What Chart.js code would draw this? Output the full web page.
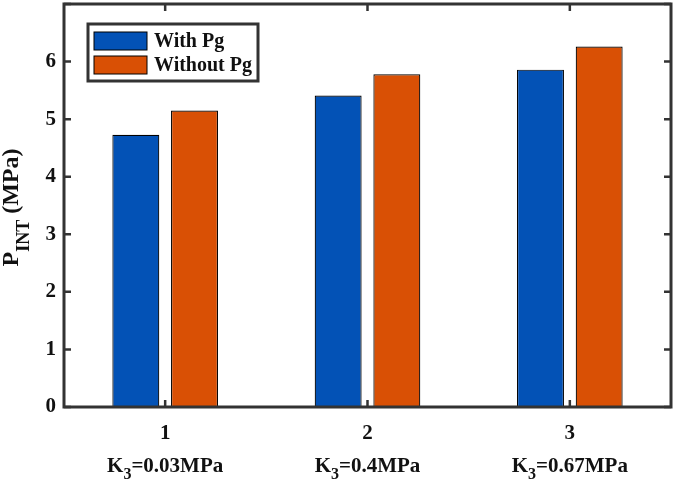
<!DOCTYPE html>
<html lang="en">
<head>
  <meta charset="UTF-8">
  <title>P_INT bar chart</title>
  <script src="https://cdn.jsdelivr.net/npm/chart.js"></script>
  <style>
    html, body {
      margin: 0;
      padding: 0;
      background: #fff;
    }

    .chart-container {
      width: 677px;
      height: 485px;
      position: relative;
    }
  </style>
</head>
<body>

  <div class="chart-container">
    <canvas id="barChart"></canvas>
  </div>

  <script>
    // chart values
    const categories = ['1', '2', '3'];
    const kValues = ['0.03MPa', '0.4MPa', '0.67MPa'];
    const seriesNames = ['With Pg', 'Without Pg'];
    const withPg = [4.73, 5.41, 5.86];
    const withoutPg = [5.15, 5.78, 6.26];
    const yTicks = [0, 1, 2, 3, 4, 5, 6, 7];

    const FONT = "'Liberation Serif', 'Times New Roman', serif";
    const FRAME = '#333333';

    // frame, inner ticks, subscript labels and boxed legend
    const matlabLook = {
      id: 'matlabLook',
      afterDraw(chart) {
        const ctx = chart.ctx;
        const a = chart.chartArea;
        const x = chart.scales.x;
        const y = chart.scales.y;

        ctx.save();
        ctx.strokeStyle = FRAME;
        ctx.lineWidth = 3;
        ctx.strokeRect(a.left, a.top, a.right - a.left, a.bottom - a.top);

        ctx.lineWidth = 2.5;
        yTicks.forEach(v => {
          const py = y.getPixelForValue(v);
          ctx.beginPath();
          ctx.moveTo(a.left, py); ctx.lineTo(a.left + 7, py);
          ctx.moveTo(a.right, py); ctx.lineTo(a.right - 7, py);
          ctx.stroke();
        });
        categories.forEach((c, i) => {
          const px = x.getPixelForValue(i);
          ctx.beginPath();
          ctx.moveTo(px, a.bottom); ctx.lineTo(px, a.bottom - 7);
          ctx.moveTo(px, a.top); ctx.lineTo(px, a.top + 7);
          ctx.stroke();
        });

        // K3 labels under the category numbers
        ctx.fillStyle = '#111';
        ctx.textBaseline = 'alphabetic';
        kValues.forEach((k, i) => {
          const px = x.getPixelForValue(i);
          const big = 'bold 21px ' + FONT;
          const small = 'bold 16px ' + FONT;
          ctx.font = big;
          const wK = ctx.measureText('K').width;
          const wRest = ctx.measureText('=' + k).width;
          ctx.font = small;
          const wSub = ctx.measureText('3').width;
          let sx = px - (wK + wSub + wRest) / 2;
          const base = 472;
          ctx.font = big;
          ctx.textAlign = 'left';
          ctx.fillText('K', sx, base);
          sx += wK;
          ctx.font = small;
          ctx.fillText('3', sx, base + 7);
          sx += wSub;
          ctx.font = big;
          ctx.fillText('=' + k, sx, base);
        });

        // y axis title with subscript
        ctx.save();
        ctx.translate(18, (a.top + a.bottom) / 2 + 2);
        ctx.rotate(-Math.PI / 2);
        const tBig = 'bold 24px ' + FONT;
        const tSmall = 'bold 18px ' + FONT;
        ctx.font = tBig;
        const wP = ctx.measureText('P').width;
        const wU = ctx.measureText(' (MPa)').width;
        ctx.font = tSmall;
        const wI = ctx.measureText('INT').width;
        let tx = -(wP + wI + wU) / 2;
        ctx.textAlign = 'left';
        ctx.font = tBig;
        ctx.fillText('P', tx, 0);
        tx += wP;
        ctx.font = tSmall;
        ctx.fillText('INT', tx, 11);
        tx += wI;
        ctx.font = tBig;
        ctx.fillText(' (MPa)', tx, 0);
        ctx.restore();

        // legend box
        const lx = a.left + 24, ly = a.top + 20, lw = 170, lh = 57;
        ctx.fillStyle = '#fff';
        ctx.fillRect(lx, ly, lw, lh);
        ctx.strokeStyle = FRAME;
        ctx.lineWidth = 3;
        ctx.strokeRect(lx, ly, lw, lh);
        chart.data.datasets.forEach((ds, i) => {
          const ry = ly + 8 + i * 24;
          ctx.fillStyle = ds.backgroundColor;
          ctx.fillRect(lx + 6, ry, 53, 18);
          ctx.strokeStyle = '#000';
          ctx.lineWidth = 1;
          ctx.strokeRect(lx + 6, ry, 53, 18);
          ctx.fillStyle = '#111';
          ctx.font = 'bold 20px ' + FONT;
          ctx.textAlign = 'left';
          ctx.textBaseline = 'middle';
          ctx.fillText(ds.label, lx + 66, ry + 10);
        });
        ctx.restore();
      }
    };

    const ctx = document.getElementById('barChart').getContext('2d');

    const barChart = new Chart(ctx, {
      type: 'bar',
      data: {
        labels: categories,
        datasets: [{
          label: seriesNames[0],
          data: withPg,
          backgroundColor: '#0352B6',
          borderColor: '#000',
          borderWidth: 1.2,
          categoryPercentage: 0.58,
          barPercentage: 0.8
        }, {
          label: seriesNames[1],
          data: withoutPg,
          backgroundColor: '#D95005',
          borderColor: '#000',
          borderWidth: 1.2,
          categoryPercentage: 0.58,
          barPercentage: 0.8
        }]
      },
      options: {
        responsive: true,
        maintainAspectRatio: false,
        animation: false,
        layout: {
          padding: { top: 4, right: 6, left: 0, bottom: 0 }
        },
        plugins: {
          legend: { display: false },
          tooltip: { enabled: false }
        },
        scales: {
          x: {
            grid: { display: false, drawTicks: false },
            border: { display: false },
            ticks: {
              color: '#111',
              padding: 14,
              font: { family: FONT, size: 21, weight: 'bold' }
            },
            afterFit(scale) {
              scale.height = 78;
              scale.paddingLeft = 0;
              scale.paddingRight = 0;
            }
          },
          y: {
            min: 0,
            max: 7,
            grid: { display: false, drawTicks: false },
            border: { display: false },
            afterBuildTicks(scale) {
              scale.ticks = yTicks.map(v => ({ value: v }));
            },
            ticks: {
              color: '#111',
              padding: 8,
              font: { family: FONT, size: 21, weight: 'bold' },
              callback: v => (v === 7 ? '' : v)
            },
            afterFit(scale) {
              scale.width = 64;
              scale.paddingTop = 0;
              scale.paddingBottom = 0;
            }
          }
        }
      },
      plugins: [matlabLook]
    });
  </script>
</body>
</html>
